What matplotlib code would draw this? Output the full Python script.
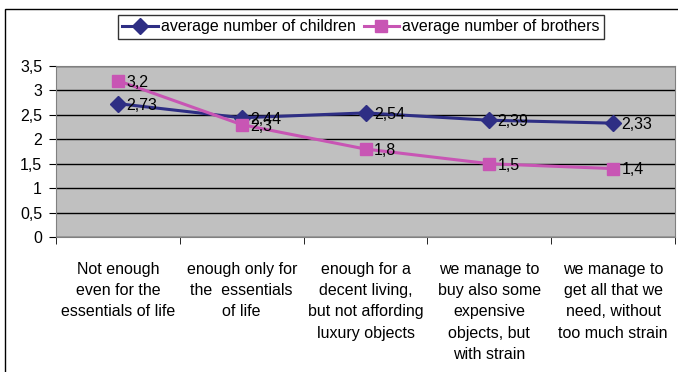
import matplotlib.pyplot as plt
from matplotlib.patches import Rectangle
import numpy as np

plt.rcParams['font.family'] = ['Liberation Sans', 'DejaVu Sans']

# income categories and the two averages
categories = [
    "Not enough\neven for the\nessentials of life",
    "enough only for\nthe  essentials\nof life",
    "enough for a\ndecent living,\nbut not affording\nluxury objects",
    "we manage to\nbuy also some\nexpensive\nobjects, but\nwith strain",
    "we manage to\nget all that we\nneed, without\ntoo much strain",
]
children = [2.73, 2.44, 2.54, 2.39, 2.33]
brothers = [3.2, 2.3, 1.8, 1.5, 1.4]
yticks = [0, 0.5, 1, 1.5, 2, 2.5, 3, 3.5]

navy = '#2E2E84'
pink = '#C855B4'

fig = plt.figure(figsize=(6.78, 3.72), dpi=100)
ax = fig.add_axes([56/678, 1 - 237/372, 619/678, 171/372])

# outer chart frame
fig.patches.append(Rectangle((5/678, -0.1), 1.2, 1 - 9/372 + 0.1,
                             transform=fig.transFigure, fill=False,
                             edgecolor='black', lw=1))

ax.set_facecolor('#C0C0C0')
x = np.arange(len(categories))

ax.plot(x, children, color=navy, lw=2.2, marker='D', markersize=8,
        label='average number of children', zorder=3)
ax.plot(x, brothers, color=pink, lw=2.2, marker='s', markersize=9,
        label='average number of brothers', zorder=3)

def fmt(v):
    return ('%g' % v).replace('.', ',')

for xi, v in zip(x, children):
    ax.annotate(fmt(v), (xi, v), xytext=(6, -1), textcoords='offset points',
                ha='left', va='center', fontsize=11.5, zorder=4)
for xi, v in zip(x, brothers):
    ax.annotate(fmt(v), (xi, v), xytext=(6, -1), textcoords='offset points',
                ha='left', va='center', fontsize=11.5, zorder=4)

ax.set_xlim(-0.5, 4.5)
ax.set_ylim(0, 3.5)
ax.set_yticks(yticks)
ax.set_yticklabels([fmt(t) for t in yticks], fontsize=11.5)
ax.yaxis.grid(True, color='black', lw=1)
ax.set_axisbelow(True)

ax.set_xticks(x)
ax.set_xticklabels(categories, fontsize=11.5, linespacing=1.52)
ax.tick_params(axis='x', which='major', length=0, pad=18)
ax.set_xticks(np.arange(-0.5, 5, 1), minor=True)
ax.tick_params(axis='x', which='minor', length=5, direction='out')
ax.tick_params(axis='y', length=5, direction='out', pad=5)

for side in ['top', 'right', 'left', 'bottom']:
    ax.spines[side].set_color('#808080')

leg = fig.legend(loc='center', bbox_to_anchor=(361/678, 1 - 27/372), ncol=2,
                 fontsize=11.5, frameon=True, fancybox=False, edgecolor='black',
                 handlelength=2.2, columnspacing=0.5, handletextpad=0.2,
                 borderpad=0.3, borderaxespad=0)
leg.get_frame().set_linewidth(1)

plt.savefig('out.png', dpi=100)
